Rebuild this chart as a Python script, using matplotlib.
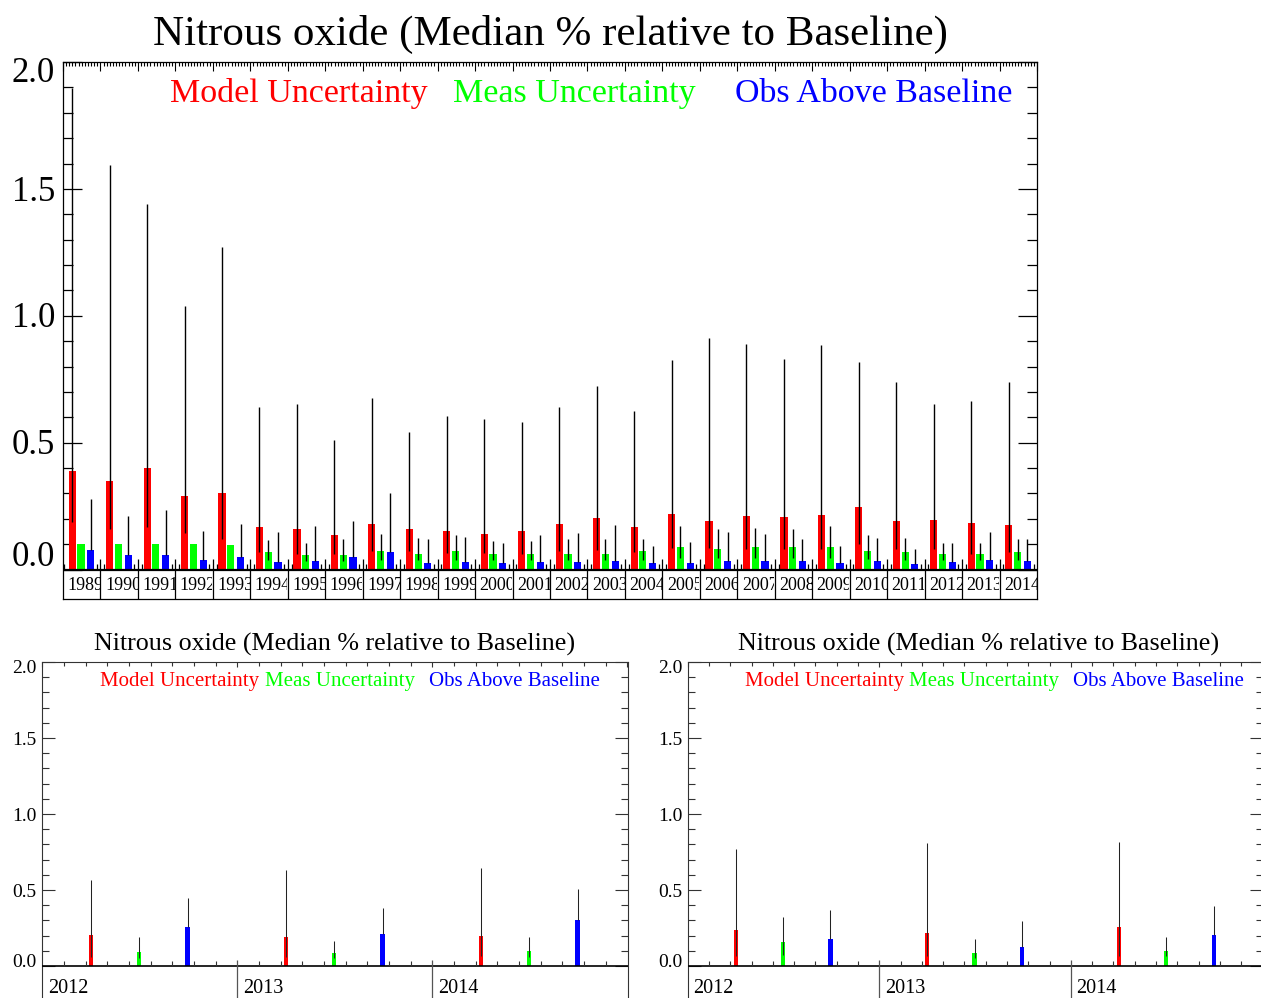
import matplotlib
matplotlib.use('Agg')
import matplotlib.pyplot as plt
from matplotlib.transforms import ScaledTranslation
from matplotlib.patches import Rectangle
import numpy as np

plt.rcParams['font.family'] = ['Liberation Serif', 'DejaVu Serif']

# ---------------- data: annual panel ----------------
years = list(range(1989, 2015))
model_med = [0.390, 0.347, 0.399, 0.290, 0.300, 0.167, 0.158, 0.134, 0.181, 0.158, 0.152, 0.138, 0.152,
             0.181, 0.201, 0.167, 0.219, 0.191, 0.210, 0.205, 0.214, 0.247, 0.191, 0.196, 0.185, 0.176]
model_lo = [0.187, 0.160, 0.167, 0.145, 0.121, 0.068, 0.063, 0.063, 0.072, 0.072, 0.066, 0.066, 0.063,
            0.072, 0.078, 0.068, 0.083, 0.083, 0.079, 0.081, 0.081, 0.101, 0.079, 0.079, 0.063, 0.068]
model_hi = [1.897, 1.594, 1.440, 1.038, 1.271, 0.641, 0.654, 0.512, 0.674, 0.543, 0.604, 0.594, 0.583,
            0.641, 0.725, 0.623, 0.826, 0.912, 0.889, 0.831, 0.885, 0.819, 0.737, 0.652, 0.664, 0.740]
meas_med = [0.100, 0.100, 0.100, 0.100, 0.097, 0.067, 0.059, 0.058, 0.071, 0.063, 0.071, 0.063, 0.063,
            0.063, 0.063, 0.072, 0.087, 0.081, 0.087, 0.087, 0.087, 0.071, 0.067, 0.063, 0.063, 0.067]
meas_lo = [0.100, 0.100, 0.100, 0.100, 0.097, 0.037, 0.035, 0.035, 0.037, 0.036, 0.037, 0.036, 0.036,
           0.036, 0.036, 0.037, 0.046, 0.045, 0.046, 0.046, 0.046, 0.040, 0.038, 0.036, 0.036, 0.038]
meas_hi = [0.100, 0.100, 0.100, 0.100, 0.097, 0.118, 0.105, 0.121, 0.138, 0.125, 0.134, 0.114, 0.114,
           0.120, 0.120, 0.120, 0.172, 0.158, 0.163, 0.158, 0.172, 0.134, 0.125, 0.105, 0.105, 0.120]
obs_med = [0.078, 0.058, 0.058, 0.038, 0.049, 0.030, 0.034, 0.049, 0.067, 0.025, 0.029, 0.025, 0.029,
           0.029, 0.034, 0.025, 0.025, 0.034, 0.034, 0.034, 0.025, 0.034, 0.020, 0.029, 0.039, 0.034]
obs_hi = [0.276, 0.210, 0.233, 0.151, 0.181, 0.147, 0.172, 0.192, 0.300, 0.121, 0.130, 0.105, 0.134,
          0.143, 0.176, 0.091, 0.110, 0.148, 0.138, 0.120, 0.092, 0.125, 0.081, 0.105, 0.148, 0.120]

# ---------------- data: two lower panels (2012-2014) ----------------
sub_years = [2012, 2013, 2014]
a_model_med = [0.206, 0.192, 0.195]
a_model_lo = [0.061, 0.060, 0.066]
a_model_hi = [0.568, 0.632, 0.647]
a_meas_med = [0.092, 0.086, 0.099]
a_meas_lo = [0.050, 0.050, 0.060]
a_meas_hi = [0.191, 0.165, 0.190]
a_obs_med = [0.259, 0.210, 0.300]
a_obs_hi = [0.450, 0.380, 0.509]

b_model_med = [0.239, 0.217, 0.254]
b_model_lo = [0.066, 0.066, 0.066]
b_model_hi = [0.770, 0.810, 0.816]
b_meas_med = [0.158, 0.086, 0.096]
b_meas_lo = [0.072, 0.050, 0.066]
b_meas_hi = [0.325, 0.178, 0.193]
b_obs_med = [0.178, 0.125, 0.206]
b_obs_hi = [0.368, 0.296, 0.397]

title = "Nitrous oxide (Median % relative to Baseline)"
legend_labels = ["Model Uncertainty", "Meas Uncertainty", "Obs Above Baseline"]
colors = ["#ff0000", "#00ff00", "#0000ff"]
ytick_vals = [0.0, 0.5, 1.0, 1.5, 2.0]
ytick_labels = ["0.0", "0.5", "1.0", "1.5", "2.0"]

W, H, DPI = 1261, 998, 100
fig = plt.figure(figsize=(W / DPI, H / DPI), dpi=DPI)


def pt(px):
    return px * 72.0 / DPI


def px_axes(x0, y0, x1, y1):
    return fig.add_axes([x0 / W, 1 - y1 / H, (x1 - x0) / W, (y1 - y0) / H])


def ftext(x, y, s, **kw):
    return fig.text(x / W, 1 - y / H, s, **kw)


# ================= top panel =================
top_y0, top_y1, zero_px = 62, 599, 569.5
scale = (zero_px - top_y0) / 2.0
ymin_top = -(top_y1 - zero_px) / scale
ax = px_axes(63, top_y0, 1037, top_y1)
ax.set_xlim(years[0], years[-1] + 1)
ax.set_ylim(ymin_top, 2.0)

yr = np.array(years, dtype=float)
bw = 0.19
ax.bar(yr + 0.245, model_med, width=bw, color=colors[0], zorder=2)
ax.bar(yr + 0.48, meas_med, width=bw, color=colors[1], zorder=2)
ax.bar(yr + 0.74, obs_med, width=bw, color=colors[2], zorder=2)
ax.vlines(yr + 0.245, model_lo, model_hi, color='k', lw=1.0, zorder=3)
ax.vlines(yr + 0.48, meas_lo, meas_hi, color='k', lw=1.0, zorder=3)
ax.vlines(yr + 0.74, obs_med, obs_hi, color='k', lw=1.0, zorder=3)
ax.axhline(0, color='k', lw=1.6, zorder=4)

bounds = np.arange(years[0] + 1, years[-1] + 1)
ax.vlines(bounds, ymin_top, 0.042, color='k', lw=0.9, zorder=4)
small = np.concatenate([bounds - 0.1, bounds + 0.1, [years[0] + 0.03, years[-1] + 0.93]])
ax.vlines(small, 0, 0.022, color='k', lw=0.9, zorder=4)

for y in years:
    t = ax.text(y + 0.12, 0, str(y), fontsize=13, ha='left', va='baseline', clip_on=True,
                transform=ax.transData + ScaledTranslation(0, -pt(20.5) / 72, fig.dpi_scale_trans))
    t.set_clip_path(Rectangle((y, ymin_top), 0.99, -ymin_top, transform=ax.transData))

ax.set_xticks(np.arange(years[0], years[-1] + 2))
ax.set_xticks(np.arange(years[0], years[-1] + 1.001, 1 / 12.0), minor=True)
ax.tick_params(axis='x', which='both', top=True, bottom=False, labelbottom=False, direction='in',
               color='k', width=0.8)
ax.tick_params(axis='x', which='major', length=pt(9))
ax.tick_params(axis='x', which='minor', length=pt(4))
ax.set_yticks(ytick_vals)
ax.set_yticks([v / 10 for v in range(1, 20) if v % 5], minor=True)
ax.tick_params(axis='y', which='both', left=True, right=True, labelleft=False, direction='in',
               color='k', width=0.9)
ax.tick_params(axis='y', which='major', length=pt(19))
ax.tick_params(axis='y', which='minor', length=pt(10))
for s in ax.spines.values():
    s.set_linewidth(0.9)
    s.set_color('k')

shifts_top = {0.0: 15.5, 2.0: -8.7}
for v, lab in zip(ytick_vals, ytick_labels):
    dy = shifts_top.get(v, 0.0) - 11.7
    ax.text(0, v, lab, fontsize=25, ha='right', va='baseline',
            transform=ax.get_yaxis_transform() + ScaledTranslation(-pt(8) / 72, pt(dy) / 72, fig.dpi_scale_trans))

ftext(550, 45, title, fontsize=31, ha='center', va='baseline')
for xs, lab, c in zip([170, 453, 735], legend_labels, colors):
    ftext(xs, 102, lab, fontsize=24.5, color=c, ha='left', va='baseline')


# ================= lower panels =================
def lower_panel(x0, x1, mm, ml, mh, gm, gl, gh, om, oh, title_cx, leg_x):
    y0, y1, zp = 662, 1000, 966
    sc = (zp - y0) / 2.0
    ymin = -(y1 - zp) / sc
    yw = 195.0
    a = px_axes(x0, y0, x1, y1)
    a.set_xlim(sub_years[0], sub_years[0] + (x1 - x0) / yw)
    a.set_ylim(ymin, 2.0)
    sy = np.array(sub_years, dtype=float)
    w = 4.2 / yw
    a.bar(sy + 0.25, mm, width=w, color=colors[0], zorder=2)
    a.bar(sy + 0.497, gm, width=w, color=colors[1], zorder=2)
    a.bar(sy + 0.745, om, width=w, color=colors[2], zorder=2)
    a.vlines(sy + 0.25, ml, mh, color='#222222', lw=0.75, zorder=3)
    a.vlines(sy + 0.497, gl, gh, color='#222222', lw=0.75, zorder=3)
    a.vlines(sy + 0.745, om, oh, color='#222222', lw=0.75, zorder=3)
    a.axhline(0, color='k', lw=1.2, zorder=4)
    a.vlines(sy[1:], ymin, 0.039, color='#555555', lw=0.9, zorder=4)
    ticks9 = [sub_years[0] + k / 9.0 for k in range(1, 27) if k % 9]
    a.vlines(ticks9, 0, 0.033, color='#333333', lw=0.8, zorder=4)
    for y in sub_years:
        a.text(y + 5.7 / yw, 0, str(y), fontsize=14.5, ha='left', va='baseline',
               transform=a.transData + ScaledTranslation(0, -pt(26.7) / 72, fig.dpi_scale_trans))
    a.set_xticks(sub_years + [sub_years[-1] + 1])
    a.set_xticks(np.arange(sub_years[0], sub_years[-1] + 1.001, 1 / 9.0), minor=True)
    a.tick_params(axis='x', which='both', top=True, bottom=False, labelbottom=False, direction='in',
                  color='#333333', width=0.8)
    a.tick_params(axis='x', which='major', length=pt(5))
    a.tick_params(axis='x', which='minor', length=pt(3.5))
    a.set_yticks(ytick_vals)
    a.set_yticks([v / 10 for v in range(1, 20) if v % 5], minor=True)
    a.tick_params(axis='y', which='both', left=True, right=True, labelleft=False, direction='in',
                  color='#333333', width=0.8)
    a.tick_params(axis='y', which='major', length=pt(12.7))
    a.tick_params(axis='y', which='minor', length=pt(6.7))
    for s in a.spines.values():
        s.set_linewidth(0.8)
        s.set_color('#333333')
    shifts = {0.0: 6.0, 2.0: -4.0}
    for v, lab in zip(ytick_vals, ytick_labels):
        dy = shifts.get(v, 0.0) - 6.6
        a.text(0, v, lab, fontsize=14, ha='right', va='baseline',
               transform=a.get_yaxis_transform() + ScaledTranslation(-pt(5.5) / 72, pt(dy) / 72, fig.dpi_scale_trans))
    ftext(title_cx, 651, title, fontsize=18.7, ha='center', va='baseline')
    for xs, lab, c in zip(leg_x, legend_labels, colors):
        ftext(xs, 686, lab, fontsize=15, color=c, ha='left', va='baseline')
    return a


lower_panel(42.3, 627.7, a_model_med, a_model_lo, a_model_hi, a_meas_med, a_meas_lo, a_meas_hi,
            a_obs_med, a_obs_hi, 335, [100, 265, 429])
lower_panel(687.7, 1262.5, b_model_med, b_model_lo, b_model_hi, b_meas_med, b_meas_lo, b_meas_hi,
            b_obs_med, b_obs_hi, 979, [745, 909, 1073])

fig.savefig('out.png', dpi=DPI)
